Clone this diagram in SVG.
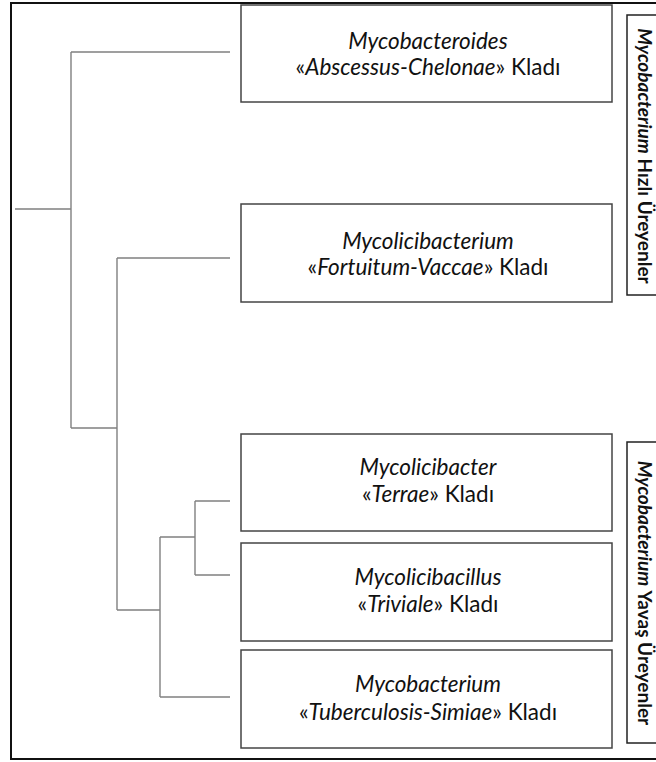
<svg xmlns="http://www.w3.org/2000/svg" width="656" height="762" viewBox="0 0 656 762">
<style>
.frame{fill:#fff;stroke:#111;stroke-width:2}
.box{fill:#fff;stroke:#444;stroke-width:1.5}
.side{fill:#fff;stroke:#222;stroke-width:1.5}
.t{font-family:Lato,"Open Sans",sans-serif;font-size:22.5px;fill:#111;text-anchor:middle}
.i{font-style:italic}
.s{font-family:Lato,"Open Sans",sans-serif;font-size:19px;font-weight:bold;fill:#111;text-anchor:middle}
.edge{fill:none;stroke:#808080;stroke-width:1.4}
</style>
<rect class="frame" x="11" y="3" width="660" height="756"/>
<g id="connectors">
<path class="edge" d="M15 209H71M71 52V428M71 52H230M71 428H117M117 258V610M117 258H230M117 610H160M160 537V697M160 697H230M160 537H195M195 501V575M195 501H230M195 575H230"/>
</g>
<g id="n1">
<rect class="box" x="241" y="5" width="371" height="97"/>
<text class="t" x="428" y="49"><tspan class="i">Mycobacteroides</tspan></text>
<text class="t" x="428" y="75">«<tspan class="i">Abscessus-Chelonae</tspan>» Kladı</text>
</g>
<g id="n2">
<rect class="box" x="241" y="204" width="371" height="98"/>
<text class="t" x="428" y="249"><tspan class="i">Mycolicibacterium</tspan></text>
<text class="t" x="428" y="275">«<tspan class="i">Fortuitum-Vaccae</tspan>» Kladı</text>
</g>
<g id="n3">
<rect class="box" x="241" y="434" width="371" height="97"/>
<text class="t" x="428" y="475"><tspan class="i">Mycolicibacter</tspan></text>
<text class="t" x="428" y="502">«<tspan class="i">Terrae</tspan>» Kladı</text>
</g>
<g id="n4">
<rect class="box" x="241" y="543" width="371" height="98"/>
<text class="t" x="428" y="585"><tspan class="i">Mycolicibacillus</tspan></text>
<text class="t" x="428" y="612">«<tspan class="i">Triviale</tspan>» Kladı</text>
</g>
<g id="n5">
<rect class="box" x="241" y="650" width="371" height="98"/>
<text class="t" x="428" y="692"><tspan class="i">Mycobacterium</tspan></text>
<text class="t" x="428" y="720">«<tspan class="i">Tuberculosis-Simiae</tspan>» Kladı</text>
</g>
<g id="fast">
<rect class="side" x="627" y="15" width="40" height="280"/>
<text class="s" transform="translate(638 156) rotate(90)"><tspan class="i">Mycobacterium</tspan> Hızlı Üreyenler</text>
</g>
<g id="slow">
<rect class="side" x="627" y="442" width="40" height="301"/>
<text class="s" transform="translate(638 593) rotate(90)"><tspan class="i">Mycobacterium</tspan> Yavaş Üreyenler</text>
</g>
</svg>
